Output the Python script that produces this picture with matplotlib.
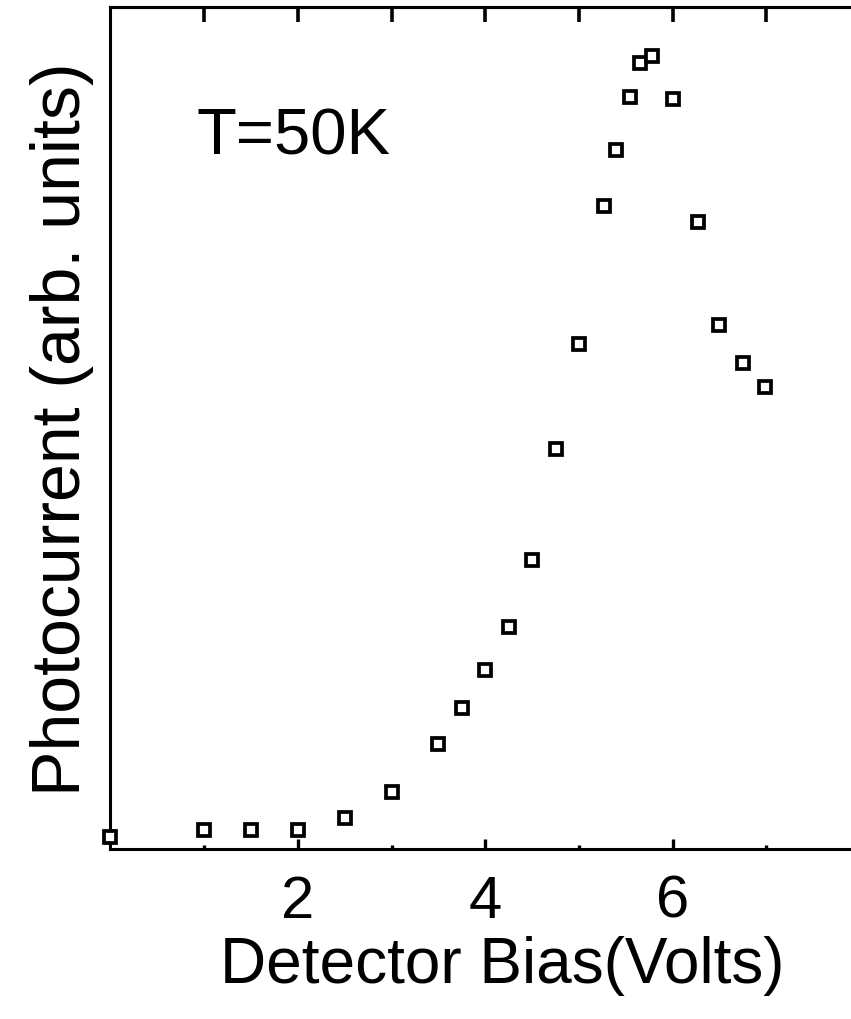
import matplotlib
matplotlib.use("Agg")
import matplotlib.pyplot as plt
from matplotlib.ticker import FixedLocator, NullFormatter

plt.rcParams['font.family'] = ['Liberation Sans', 'DejaVu Sans']

# Photocurrent vs. detector bias at T = 50 K
bias = [0.0, 1.0, 1.5, 2.0, 2.5, 3.0, 3.5, 3.75, 4.0, 4.25, 4.5, 4.75,
        5.0, 5.27, 5.39, 5.54, 5.65, 5.78, 6.0, 6.27, 6.49, 6.75, 6.99]
photocurrent = [1.4, 2.3, 2.3, 2.3, 3.7, 6.8, 12.5, 16.7, 21.3, 26.4, 34.3, 47.5,
                60.0, 76.4, 83.0, 89.3, 93.3, 94.2, 89.1, 74.5, 62.2, 57.7, 54.9]

major_ticks = [2, 4, 6]
major_labels = ["2", "4", "6"]
minor_ticks = [1, 3, 5, 7]
top_ticks = [1, 2, 3, 4, 5, 6, 7]

W, H = 851, 1020
fig = plt.figure(figsize=(W / 100, H / 100), dpi=100)
x0_px, xunit_px = 110.5, 93.7
ax = fig.add_axes([x0_px / W, (H - 850) / H, 8 * xunit_px / W, 842 / H])

ax.plot(bias, photocurrent, linestyle='none', marker='s', markersize=8.5,
        markerfacecolor='white', markeredgecolor='black', markeredgewidth=2.7,
        clip_on=False, zorder=3)

ax.set_xlim(0, 8)
ax.set_ylim(0, 100)

for side in ['left', 'bottom', 'top']:
    ax.spines[side].set_linewidth(2.2)
ax.spines['right'].set_visible(False)

ax.xaxis.set_major_locator(FixedLocator(major_ticks))
ax.set_xticklabels(major_labels)
ax.xaxis.set_minor_locator(FixedLocator(minor_ticks))
ax.xaxis.set_minor_formatter(NullFormatter())
ax.tick_params(axis='x', which='major', direction='in', length=7, width=2.4,
               labelsize=43, pad=18)
ax.tick_params(axis='x', which='minor', direction='in', length=3, width=2.4)
ax.set_yticks([])

top = ax.secondary_xaxis('top')
top.set_xticks(top_ticks)
top.set_xticklabels([])
top.tick_params(direction='in', length=11, width=2.6)
top.spines['top'].set_linewidth(2.2)

ax.set_xlabel("Detector Bias(Volts)", fontsize=46, labelpad=4)
ax.xaxis.label.set_x(0.523)
ax.set_ylabel("Photocurrent (arb. units)", fontsize=49, labelpad=12)

ax.text(0.115, 0.826, "T=50K", transform=ax.transAxes, fontsize=47,
        ha='left', va='baseline')

fig.savefig("out.png", dpi=100)
